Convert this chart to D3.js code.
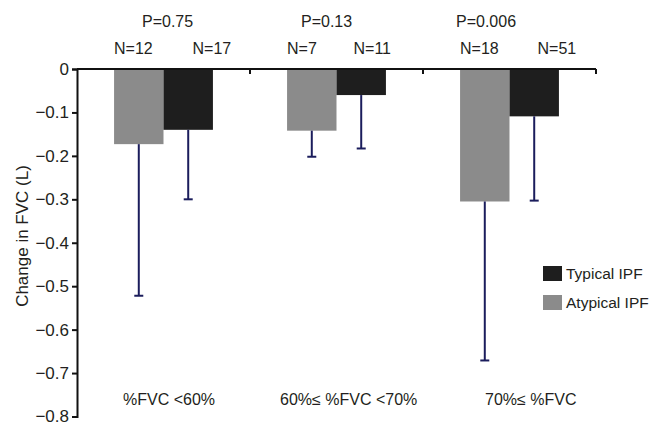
<!DOCTYPE html>
<html>

<head>
    <meta charset="UTF-8">
    <title>Change in FVC</title>
    <style>
        body { margin: 0; background: #fff; }
        text { font-family: "Liberation Sans", Arial, sans-serif; fill: #231f20; }
    </style>
</head>

<body>

    <svg id="chart"></svg>

    <script src="https://cdn.jsdelivr.net/npm/d3@7"></script>
    <script>
        // data
        const groups = ['%FVC <60%', '60%\u2264 %FVC <70%', '70%\u2264 %FVC'];
        const series = ['Atypical IPF', 'Typical IPF'];
        const atypicalMean = [-0.173, -0.142, -0.305];
        const atypicalErr = [-0.522, -0.202, -0.671];
        const typicalMean = [-0.140, -0.060, -0.109];
        const typicalErr = [-0.300, -0.183, -0.303];
        const atypicalN = ['N=12', 'N=7', 'N=18'];
        const typicalN = ['N=17', 'N=11', 'N=51'];
        const pValues = ['P=0.75', 'P=0.13', 'P=0.006'];
        const yTicks = [0, -0.1, -0.2, -0.3, -0.4, -0.5, -0.6, -0.7, -0.8];

        const width = 651;
        const height = 426;
        const margin = { top: 69, right: 55, bottom: 9.5, left: 77 };

        // hand placed label nudges, as in the original figure
        const pOffset = [65, 51, 33];
        const nTypicalOffset = [29, 17, 28];
        const catOffset = [46, 30, 62];

        const colors = { 'Atypical IPF': '#8b8b8b', 'Typical IPF': '#1e1e1e' };
        const errColor = '#1b1d5c';

        const svg = d3.select('#chart')
            .attr('width', width)
            .attr('height', height);

        const x0 = d3.scaleBand()
            .domain(groups)
            .range([margin.left, width - margin.right])
            .padding(0);

        const x1 = d3.scaleBand()
            .domain(series)
            .range([0, x0.bandwidth()])
            .paddingInner(0)
            .paddingOuter(0.75);

        const y = d3.scaleLinear()
            .domain([-0.8, 0])
            .range([height - margin.bottom, margin.top]);

        const rows = groups.map((g, i) => ({
            group: g,
            i: i,
            bars: [
                { key: 'Atypical IPF', mean: atypicalMean[i], err: atypicalErr[i], n: atypicalN[i] },
                { key: 'Typical IPF', mean: typicalMean[i], err: typicalErr[i], n: typicalN[i] }
            ]
        }));

        const g = svg.selectAll('g.group')
            .data(rows)
            .enter()
            .append('g')
            .attr('class', 'group')
            .attr('transform', d => 'translate(' + x0(d.group) + ',0)');

        // bars
        g.selectAll('rect')
            .data(d => d.bars)
            .enter()
            .append('rect')
            .attr('x', d => x1(d.key))
            .attr('y', y(0))
            .attr('width', x1.bandwidth())
            .attr('height', d => y(d.mean) - y(0))
            .style('fill', d => colors[d.key]);

        // error bars (downward only)
        g.selectAll('line.err')
            .data(d => d.bars)
            .enter()
            .append('line')
            .attr('class', 'err')
            .attr('x1', d => x1(d.key) + x1.bandwidth() / 2)
            .attr('x2', d => x1(d.key) + x1.bandwidth() / 2)
            .attr('y1', d => y(d.mean))
            .attr('y2', d => y(d.err))
            .style('stroke', errColor)
            .style('stroke-width', 2);

        g.selectAll('line.cap')
            .data(d => d.bars)
            .enter()
            .append('line')
            .attr('class', 'cap')
            .attr('x1', d => x1(d.key) + x1.bandwidth() / 2 - 4.5)
            .attr('x2', d => x1(d.key) + x1.bandwidth() / 2 + 4.5)
            .attr('y1', d => y(d.err))
            .attr('y2', d => y(d.err))
            .style('stroke', errColor)
            .style('stroke-width', 2);

        // N labels
        g.selectAll('text.n')
            .data(d => d.bars.map(b => Object.assign({ i: d.i }, b)))
            .enter()
            .append('text')
            .attr('class', 'n')
            .attr('x', d => x1(d.key) + (d.key === 'Typical IPF' ? nTypicalOffset[d.i] : 0))
            .attr('y', 53.5)
            .style('font-size', '16px')
            .text(d => d.n);

        // P labels
        g.append('text')
            .attr('x', d => pOffset[d.i])
            .attr('y', 26.5)
            .style('font-size', '16px')
            .text(d => pValues[d.i]);

        // category labels
        g.append('text')
            .attr('x', d => catOffset[d.i])
            .attr('y', 404.5)
            .style('font-size', '16px')
            .text(d => d.group);

        // y axis
        const yAxis = svg.append('g')
            .attr('transform', 'translate(' + margin.left + ',0)')
            .call(d3.axisLeft(y)
                .tickValues(yTicks)
                .tickSize(5)
                .tickPadding(3)
                .tickFormat(d => Math.abs(d) < 1e-9 ? '0' : d3.format('.1f')(d)));
        yAxis.select('.domain').style('stroke', '#111').style('stroke-width', 2);
        yAxis.selectAll('.tick line').style('stroke', '#111').style('stroke-width', 2);
        yAxis.selectAll('.tick text')
            .style('font-size', '17px')
            .style('font-family', '"Liberation Sans", Arial, sans-serif')
            .style('fill', '#231f20');

        // x axis along zero with ticks at group boundaries
        const xAxis = svg.append('g');
        xAxis.append('line')
            .attr('x1', x0.range()[0])
            .attr('x2', x0.range()[1])
            .attr('y1', y(0))
            .attr('y2', y(0))
            .style('stroke', '#111')
            .style('stroke-width', 2);
        xAxis.selectAll('line.tick')
            .data(groups)
            .enter()
            .append('line')
            .attr('class', 'tick')
            .attr('x1', d => x0(d) + x0.bandwidth())
            .attr('x2', d => x0(d) + x0.bandwidth())
            .attr('y1', y(0))
            .attr('y2', y(0) + 5)
            .style('stroke', '#111')
            .style('stroke-width', 2);

        // y axis title
        svg.append('text')
            .attr('transform', 'translate(28,236) rotate(-90)')
            .attr('text-anchor', 'middle')
            .style('font-size', '17px')
            .text('Change in FVC (L)');

        // legend
        const legend = svg.append('g')
            .attr('transform', 'translate(543,266)');
        const legendItems = ['Typical IPF', 'Atypical IPF'];
        legend.selectAll('rect')
            .data(legendItems)
            .enter()
            .append('rect')
            .attr('x', 0)
            .attr('y', (d, i) => i * 29)
            .attr('width', 19)
            .attr('height', 15)
            .style('fill', d => colors[d]);
        legend.selectAll('text')
            .data(legendItems)
            .enter()
            .append('text')
            .attr('x', 23)
            .attr('y', (d, i) => i * 29 + 13)
            .style('font-size', '15.5px')
            .text(d => d);
    </script>
</body>

</html>
